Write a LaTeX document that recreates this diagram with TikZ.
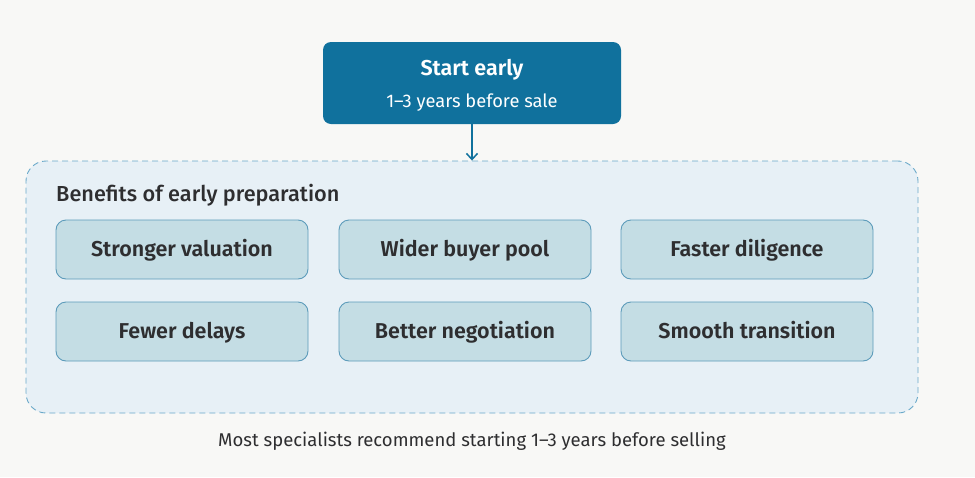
\documentclass[tikz,border=0pt]{standalone}
\usepackage{fontspec}
\setmainfont{Fira Sans}[BoldFont={Fira Sans SemiBold}]
\newfontfamily\medfont{Fira Sans Medium}
\usetikzlibrary{arrows.meta}
\definecolor{bg}{HTML}{F8F8F6}
\definecolor{topfill}{HTML}{10719D}
\definecolor{contfill}{HTML}{E7F0F6}
\definecolor{contdraw}{HTML}{6AA9C9}
\definecolor{boxfill}{HTML}{C4DDE4}
\definecolor{boxdraw}{HTML}{5C9BBA}
\definecolor{txt}{HTML}{2E2E30}
\tikzset{
  benefit/.style={draw=boxdraw, fill=boxfill, line width=0.9pt, rounded corners=10pt,
    minimum width=252pt, minimum height=59pt, inner sep=0pt, text height=14.8pt, text depth=0pt,
    font=\fontsize{21.5}{24}\selectfont\bfseries, text=txt},
  topbox/.style={fill=topfill, rounded corners=8pt, minimum width=298pt, minimum height=82pt, inner sep=0pt},
  plain/.style={inner sep=0pt, text depth=0pt},
}
\begin{document}
\begin{tikzpicture}[x=1pt,y=-1pt]
\fill[bg] (0,0) rectangle (975,477);
\useasboundingbox (0,0) rectangle (975,477);
\node[topbox] (top) at (472,83) {};
\node[plain, text height=14.8pt, text=white, font=\fontsize{21.5}{24}\selectfont\bfseries] (title) at (472,68.3) {Start early};
\node[plain, text height=12.7pt, text=white, font=\fontsize{18.3}{21}\selectfont] (sub) at (472,101.3) {1–3 years before sale};
\node[draw=contdraw, fill=contfill, dashed, dash pattern=on 6pt off 4pt, line width=0.9pt,
  rounded corners=20pt, minimum width=892pt, minimum height=252pt, inner sep=0pt] (cont) at (472,287) {};
\draw[-{Straight Barb[length=6pt,width=11pt]}, topfill, line width=1.5pt] (top.south) -- (cont.north);
\node[plain, anchor=west, text height=15.1pt, text=txt, font=\fontsize{21.7}{24}\medfont] (hdr) at (56,194.2) {Benefits of early preparation};
\node[benefit] (b1) at (182,249.5) {Stronger valuation};
\node[benefit] (b2) at (465,249.5) {Wider buyer pool};
\node[benefit] (b3) at (747,249.5) {Faster diligence};
\node[benefit] (b4) at (182,331.5) {Fewer delays};
\node[benefit] (b5) at (465,331.5) {Better negotiation};
\node[benefit] (b6) at (747,331.5) {Smooth transition};
\node[plain, text height=12.8pt, text=txt, font=\fontsize{18.5}{21}\selectfont] (foot) at (472,440) {Most specialists recommend starting 1–3 years before selling};
\end{tikzpicture}
\end{document}
